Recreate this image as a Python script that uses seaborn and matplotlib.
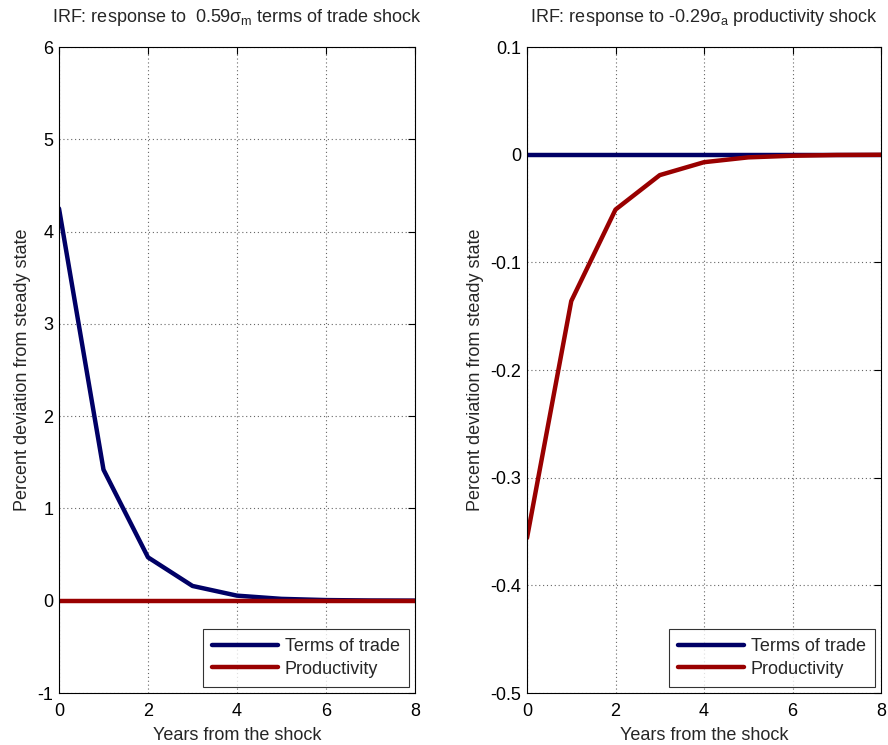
import numpy as np
import pandas as pd
import matplotlib
matplotlib.use("Agg")
import matplotlib.pyplot as plt
import seaborn as sns

# ---- data ----
years = [0, 1, 2, 3, 4, 5, 6, 7, 8]
tot_shock_tot = [4.25, 1.42, 0.47, 0.16, 0.055, 0.02, 0.007, 0.0025, 0.001]
tot_shock_prod = [0, 0, 0, 0, 0, 0, 0, 0, 0]
prod_shock_tot = [0, 0, 0, 0, 0, 0, 0, 0, 0]
prod_shock_prod = [-0.356, -0.136, -0.051, -0.019, -0.007, -0.0025, -0.001, -0.0003, -0.0001]
series_names = ["Terms of trade", "Productivity"]
left_yticks = [-1, 0, 1, 2, 3, 4, 5, 6]
right_yticks = [-0.5, -0.4, -0.3, -0.2, -0.1, 0, 0.1]
right_yticklabels = ["-0.5", "-0.4", "-0.3", "-0.2", "-0.1", "0", "0.1"]
xticks = [0, 2, 4, 6, 8]
titles = [r"IRF: response to  0.59$\sigma_{m}$ terms of trade shock",
          r"IRF: response to -0.29$\sigma_{a}$ productivity shock"]

sns.set_style("white")
plt.rcParams["font.family"] = ["Liberation Sans", "DejaVu Sans"]
plt.rcParams["mathtext.fontset"] = "custom"
plt.rcParams["mathtext.rm"] = "Liberation Sans"
plt.rcParams["mathtext.it"] = "Liberation Sans"
plt.rcParams["mathtext.bf"] = "Liberation Sans:bold"
plt.rcParams["axes.unicode_minus"] = False

colors = {"Terms of trade": "#000066", "Productivity": "#990000"}

fig = plt.figure(figsize=(8.88, 7.45), dpi=100)
ax1 = fig.add_axes([59/888, 52/745, 356/888, 646/745])
ax2 = fig.add_axes([527/888, 52/745, 354/888, 646/745])

def make_df(a, b):
    return pd.DataFrame({
        "year": years + years,
        "value": list(a) + list(b),
        "series": [series_names[0]] * len(years) + [series_names[1]] * len(years),
    })

df1 = make_df(tot_shock_tot, tot_shock_prod)
df2 = make_df(prod_shock_tot, prod_shock_prod)

fs = 13
for ax, df, title in [(ax1, df1, titles[0]), (ax2, df2, titles[1])]:
    sns.lineplot(data=df, x="year", y="value", hue="series", palette=colors,
                 hue_order=series_names, linewidth=3.2, ax=ax, sort=False,
                 estimator=None)
    ax.set_xlim(0, 8)
    ax.set_xticks(xticks)
    ax.set_xticklabels([str(t) for t in xticks])
    ax.grid(True, linestyle=(0, (1, 2.5)), color="#666666", linewidth=0.8)
    ax.tick_params(direction="in", length=5, width=0.8, top=True, right=True,
                   labelsize=fs, colors="black", pad=4)
    ax.tick_params(axis="x", pad=7)
    for s in ax.spines.values():
        s.set_visible(True)
        s.set_color("black")
        s.set_linewidth(0.8)
    ax.set_xlabel("Years from the shock", fontsize=fs, labelpad=5)
    ax.set_ylabel("Percent deviation from steady state", fontsize=fs, labelpad=5)
    ax.set_title(title, fontsize=fs, pad=18)
    leg = ax.legend(loc="lower right", fontsize=fs, frameon=True, fancybox=False,
                    handlelength=3.7, borderaxespad=0.35, borderpad=0.5,
                    labelspacing=0.3, handletextpad=0.35)
    leg.get_frame().set_edgecolor("black")
    leg.get_frame().set_linewidth(0.8)
    for h in leg.get_lines():
        h.set_linewidth(3.2)

ax1.set_ylim(-1, 6)
ax1.set_yticks(left_yticks)
ax1.set_yticklabels([str(t) for t in left_yticks])
ax2.set_ylim(-0.5, 0.1)
ax2.set_yticks(right_yticks)
ax2.set_yticklabels(right_yticklabels)

fig.savefig("out.png", dpi=100)
